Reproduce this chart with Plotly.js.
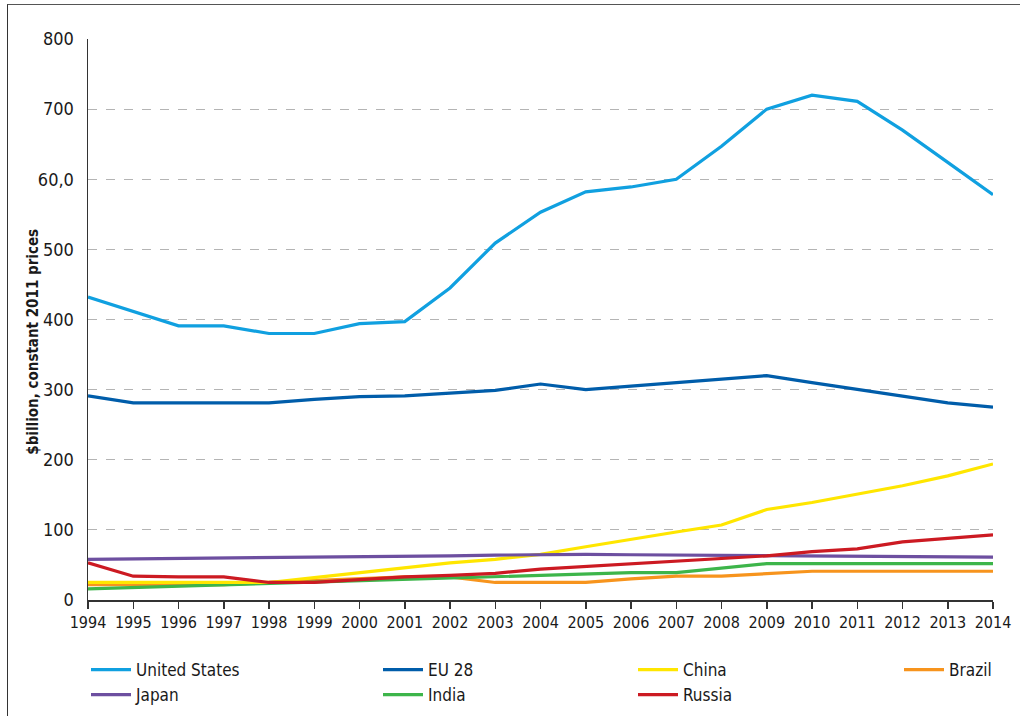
<!DOCTYPE html>
<html>
<head>
<meta charset="utf-8">
<script src="https://cdn.plot.ly/plotly-3.0.1.min.js"></script>
<style>
html,body{margin:0;padding:0;background:#fff;}
#wrap{position:relative;width:1020px;height:716px;}
#chart{position:absolute;left:0;top:0;width:1020px;height:716px;}
#frame{position:absolute;left:7px;top:4px;width:1013px;height:712px;border-left:1.5px solid #333;border-top:1.5px solid #555;pointer-events:none;}
</style>
</head>
<body>
<div id="wrap"><div id="chart"></div><div id="frame"></div></div>
<script>
const years = [1994,1995,1996,1997,1998,1999,2000,2001,2002,2003,2004,2005,2006,2007,2008,2009,2010,2011,2012,2013,2014];
const unitedStates = [432,411,391,391,380,380,394,397,445,509,553,582,589,600,647,700,720,711,670,624,578];
const eu28 = [291,281,281,281,281,286,290,291,295,299,308,300,305,310,315,320,310,300,290,281,275];
const china = [25,25,25,25,25,32,39,46,53,58,65,76,87,97,107,129,139,151,163,177,194];
const brazil = [22,22,22,22,25,28,31,33,33,25,25,25,30,34,34,37,41,41,41,41,41];
const japan = [58,58.5,59,59.5,60,61,61.5,62,63,64,65,65,64.5,64,63.5,63,63,62.5,62,61.5,61];
const india = [16,18,20,22,24,26,28,29,31,33,36,38,39,39,46,52,52,52,52,52,52];
const russia = [53,34,33,33,25,25,29,33,35,38,44,48,52,56,60,63,69,73,83,88,93];

const yTickVals = [0,100,200,300,400,500,600,700,800];
const yTickText = ["0","100","200","300","400","500","60,0","700","800"];
const yTitle = "$billion, constant 2011 prices";

const FONT = '"Liberation Sans Narrow","DejaVu Sans Condensed","Roboto Condensed","Open Sans",sans-serif';

function tr(name, y, color, rank, leg){
  return {x: years, y: y, name: name, type:'scatter', mode:'lines',
    line:{color:color, width:3.2}, legendrank: rank, legend: leg, hoverinfo:'skip'};
}
const data = [
  tr('Brazil', brazil, '#f7941d', 1, 'legend4'),
  tr('India', india, '#3db54a', 2, 'legend2'),
  tr('China', china, '#ffe600', 1, 'legend3'),
  tr('Japan', japan, '#6d4fa0', 2, 'legend'),
  tr('Russia', russia, '#cc1a22', 2, 'legend3'),
  tr('EU 28', eu28, '#005daa', 1, 'legend2'),
  tr('United States', unitedStates, '#10a0e0', 1, 'legend')
];

function leg(px){
  return {orientation:'v', xref:'container', yref:'container', x: px/1020, xanchor:'left',
    y: 1 - 652/716, yanchor:'top', traceorder:'normal', bgcolor:'rgba(0,0,0,0)',
    font:{size:17, family:FONT, color:'#1a1a1a'}, itemwidth:40, tracegroupgap:0};
}

const layout = {
  width:1020, height:716,
  margin:{l:88, r:27, t:39, b:116, autoexpand:false},
  paper_bgcolor:'#fff', plot_bgcolor:'#fff',
  font:{family:FONT, color:'#1a1a1a', size:15},
  showlegend:true,
  legend: leg(86), legend2: leg(378), legend3: leg(633), legend4: leg(899),
  xaxis:{range:[1994,2014], tickmode:'array', tickvals:years, ticks:'outside', ticklen:7,
    tickcolor:'#333', tickwidth:1.5, showline:true, linecolor:'#333', linewidth:1.5,
    showgrid:false, zeroline:false, tickfont:{size:16, family:FONT, color:'#1a1a1a'}, fixedrange:true},
  yaxis:{range:[0,800], tickmode:'array', tickvals:yTickVals, ticktext:yTickText,
    ticks:'', showline:true, linecolor:'#333', linewidth:1.5,
    showgrid:true, gridcolor:'#b4b4b4', griddash:'dash', gridwidth:1.2, zeroline:false,
    tickfont:{size:18, family:FONT, color:'#1a1a1a'}, ticklabelstandoff:9,
    fixedrange:true},
  annotations:[{text:'<b>'+yTitle+'</b>', xref:'paper', yref:'paper', x:-0.061, y:0.46,
    xanchor:'center', yanchor:'middle', textangle:-90, showarrow:false,
    font:{size:15, family:FONT, color:'#1a1a1a'}}]
};
Plotly.newPlot('chart', data, layout, {displayModeBar:false, staticPlot:true});
</script>
</body>
</html>
